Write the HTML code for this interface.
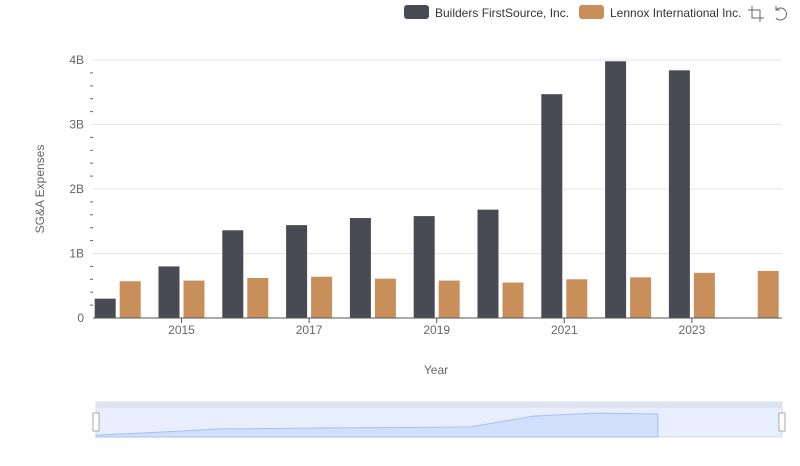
<!DOCTYPE html>
<html><head><meta charset="utf-8"><style>
body{margin:0;background:#fff;font-family:"Liberation Sans",sans-serif}
svg text{font-family:"Liberation Sans",sans-serif}
</style></head><body>
<svg id="c" width="800" height="461" xmlns="http://www.w3.org/2000/svg">
<g>
<g><rect x="404" y="5" width="25" height="14" rx="3" fill="#4a4a55"/><text x="435" y="17" font-size="12" fill="#333">Builders FirstSource, Inc.</text></g>
<g><rect x="579" y="5" width="25" height="14" rx="3" fill="#c98f5b"/><text x="610" y="17" font-size="12" fill="#333">Lennox International Inc.</text></g>
<g stroke="#666" fill="none"><path d="M748 10h12v12M752 6v12h12"/></g>
<g stroke="#666" fill="none"><path d="M776 10a6 6 0 1 1 0 8M776 6v4h4"/></g>
</g>
<text transform="translate(44,189) rotate(-90)" text-anchor="middle" font-size="12" fill="#666">SG&amp;A Expenses</text>
<text x="436" y="374" text-anchor="middle" font-size="12" fill="#666">Year</text>
<g id="grid"></g><g id="bars"></g><g id="axes"></g>
<g>
<rect x="96" y="402" width="686" height="35" fill="#e8eefb" stroke="#d3dbe9"/>
<rect x="96" y="402" width="686" height="6" fill="#dde3ef"/>
<path id="zarea" fill="#d2dffa" stroke="#a8c0f0"/>
<rect x="93" y="413" width="6" height="18" fill="#fff" stroke="#aaa"/>
<rect x="779" y="413" width="6" height="18" fill="#fff" stroke="#aaa"/>
</g>
</svg>
<script>
const years=[2014,2015,2016,2017,2018,2019,2020,2021,2022,2023,2024];
const builders=[0.30,0.80,1.36,1.44,1.55,1.58,1.68,3.47,3.98,3.84,null];
const lennox=[0.57,0.58,0.62,0.64,0.61,0.58,0.55,0.60,0.63,0.70,0.73];
const yTicks=[0,1,2,3,4];
const yTickLabels=["0","1B","2B","3B","4B"];
const NS="http://www.w3.org/2000/svg";
const y=v=>318-v*64.5;
const xc=i=>117.7+i*63.8;
function mk(t,a,p){const e=document.createElementNS(NS,t);for(const k in a)e.setAttribute(k,a[k]);p.appendChild(e);return e;}
const grid=document.getElementById('grid'),bars=document.getElementById('bars'),axes=document.getElementById('axes');
yTicks.forEach((t,i)=>{
 if(t>0){const l=mk('line',{x1:93,x2:782,y1:y(t),y2:y(t),stroke:'#dfe3ee'},grid);
 
 }
 const tx=mk('text',{x:84,y:y(t)+4,'text-anchor':'end','font-size':12,fill:'#666'},axes);tx.textContent=yTickLabels[i];
 
 
 if(i<yTicks.length-1)for(let k=1;k<5;k++)mk('line',{x1:90,x2:93,y1:y(t+k*0.2),y2:y(t+k*0.2),stroke:'#666'},axes);
});
mk('line',{x1:93,x2:782,y1:318,y2:318,stroke:'#555'},axes);
years.forEach((yr,i)=>{
 if(builders[i]!=null){const r=mk('rect',{x:xc(i)-23,y:y(builders[i]),width:21,height:318-y(builders[i]),fill:'#4a4a55'},bars);
 
 }
 const r2=mk('rect',{x:xc(i)+2,y:y(lennox[i]),width:21,height:318-y(lennox[i]),fill:'#c98f5b'},bars);
 
 
 if(yr%2==1){mk('line',{x1:xc(i),x2:xc(i),y1:318,y2:323,stroke:'#555'},axes);
 const t=mk('text',{x:xc(i),y:334,'text-anchor':'middle','font-size':12,fill:'#666'},axes);t.textContent=yr;
 
 }
});
const zx=i=>96+i*(686-68)/9.9,zy=v=>437-v*6;
let d='M96 437';builders.forEach((v,i)=>{if(v!=null)d+=' L'+zx(i)+' '+zy(v);});
d+=' L'+zx(9)+' 437 Z';document.getElementById('zarea').setAttribute('d',d);
</script>
</body></html>
